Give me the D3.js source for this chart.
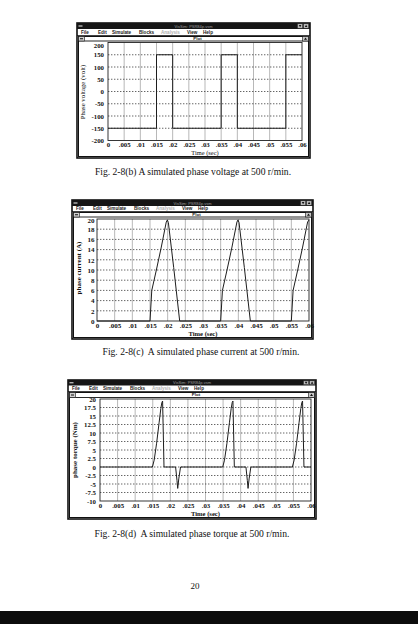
<!DOCTYPE html>
<html><head><meta charset="utf-8">
<script src="https://cdn.jsdelivr.net/npm/d3@7"></script>
<style>body{margin:0;background:#fff}svg{display:block}</style>
</head><body>
<svg id="c" width="418" height="624"></svg>
<script>
// ---------- data ----------
const timeTicks = [0, 0.005, 0.01, 0.015, 0.02, 0.025, 0.03, 0.035, 0.04, 0.045, 0.05, 0.055, 0.06];
const timeTickLabels = ["0", ".005", ".01", ".015", ".02", ".025", ".03", ".035", ".04", ".045", ".05", ".055", ".06"];

const voltTime  = [0, 0.015, 0.015, 0.020, 0.020, 0.035, 0.035, 0.040, 0.040, 0.055, 0.055, 0.060];
const voltValue = [-150, -150, 150, 150, -150, -150, 150, 150, -150, -150, 150, 150];
const voltTicks = [200, 150, 100, 50, 0, -50, -100, -150, -200];
const voltTickLabels = ["200", "150", "100", "50", "0", "-50", "-100", "-150", "-200"];

const currTime  = [0, 0.015, 0.0155, 0.0168, 0.0182, 0.0196, 0.0199, 0.0202, 0.0217, 0.0234,
                   0.035, 0.0355, 0.0368, 0.0382, 0.0396, 0.0399, 0.0402, 0.0417, 0.0434,
                   0.055, 0.0555, 0.0568, 0.0582, 0.0596, 0.06];
const currValue = [0, 0, 6, 10, 14.5, 19.4, 19.8, 19.3, 10.5, 0,
                   0, 6, 10, 14.5, 19.4, 19.8, 19.3, 10.5, 0,
                   0, 6, 10, 14.5, 19.4, 19.8];
const currTicks = [20, 18, 16, 14, 12, 10, 8, 6, 4, 2, 0];
const currTickLabels = ["20", "18", "16", "14", "12", "10", "8", "6", "4", "2", "0"];

const torqTime  = [0, 0.0149, 0.0154, 0.0161, 0.0168, 0.0173, 0.0176, 0.0178, 0.0182,
                   0.0215, 0.0219, 0.0221, 0.0224, 0.0229,
                   0.0349, 0.0354, 0.0361, 0.0368, 0.0373, 0.0376, 0.0378, 0.0382,
                   0.0415, 0.0419, 0.0421, 0.0424, 0.0429,
                   0.0547, 0.0552, 0.0559, 0.0566, 0.0571, 0.0574, 0.0576, 0.058, 0.06];
const torqValue = [0, 0, 2, 7, 13, 17.2, 19, 19.4, 0,
                   0, -4, -6.3, -3.5, 0,
                   0, 2, 7, 13, 17.2, 19, 19.4, 0,
                   0, -4, -6.3, -3.5, 0,
                   0, 2, 7, 13, 17.2, 19, 19.4, 0, 0];
const torqTicks = [20, 17.5, 15, 12.5, 10, 7.5, 5, 2.5, 0, -2.5, -5, -7.5, -10];
const torqTickLabels = ["20", "17.5", "15", "12.5", "10", "7.5", "5", "2.5", "0", "-2.5", "-5", "-7.5", "-10"];

const menuItems = ["File", "Edit", "Simulate", "Blocks", "Analysis", "View", "Help"];
const captions = [
  "Fig. 2-8(b) A simulated phase voltage at 500 r/min.",
  "Fig. 2-8(c)  A simulated phase current at 500 r/min.",
  "Fig. 2-8(d)  A simulated phase torque at 500 r/min."
];
const pageNumber = "20";

// ---------- drawing ----------
const SERIF = "'Liberation Serif','Times New Roman',serif";
const SANS = "'Liberation Sans',Arial,sans-serif";
const svg = d3.select("#c");

const menuOffsets = [4, 21, 35, 62, 84, 110, 126];

function drawWindow(g, L) {
  const w = L.x1 - L.x0;
  g.append("rect").attr("x", L.x0).attr("y", L.y0).attr("width", w).attr("height", L.y1 - L.y0)
    .attr("fill", "#fff").attr("stroke", "#111").attr("stroke-width", 1.6);
  g.append("rect").attr("x", L.x0).attr("y", L.y0).attr("width", w).attr("height", L.tb - L.y0).attr("fill", "#151515");
  g.append("rect").attr("x", L.x0 + 1.5).attr("y", (L.y0 + L.tb) / 2 - 0.6).attr("width", 4).attr("height", 1.2).attr("fill", "#ccc");
  g.append("text").attr("x", (L.x0 + L.x1) / 2).attr("y", L.tb - 1.4).attr("text-anchor", "middle")
    .attr("font-family", SANS).attr("font-size", 4).attr("fill", "#9a9a9a").text("VisSim: PSR84p.vsm");
  for (let i = 0; i < 2; i++) {
    const bx = L.x1 - 12.5 + i * 6;
    g.append("rect").attr("x", bx).attr("y", L.y0 + 0.8).attr("width", 5.2).attr("height", L.tb - L.y0 - 1.6)
      .attr("fill", "#bdbdbd").attr("stroke", "#222").attr("stroke-width", 0.5);
    const cy = (L.y0 + L.tb) / 2;
    const p = i === 0 ? `M${bx + 1.3},${cy - 1} L${bx + 3.9},${cy - 1} L${bx + 2.6},${cy + 1.2}Z`
                      : `M${bx + 1.3},${cy + 1} L${bx + 3.9},${cy + 1} L${bx + 2.6},${cy - 1.2}Z`;
    g.append("path").attr("d", p).attr("fill", "#111");
  }
  g.append("line").attr("x1", L.x0).attr("x2", L.x1).attr("y1", L.mb).attr("y2", L.mb).attr("stroke", "#111").attr("stroke-width", 0.8);
  menuItems.forEach((m, i) => {
    g.append("text").attr("x", L.x0 + menuOffsets[i]).attr("y", L.mb - 1.3)
      .attr("font-family", SANS).attr("font-weight", "bold").attr("font-size", 4.6)
      .attr("fill", m === "Analysis" ? "#b0b0b0" : "#1a1a1a").text(m);
  });
  const sx0 = L.x0 + 1.5, sx1 = L.x1 - 1.5;
  g.append("rect").attr("x", sx0).attr("y", L.pt).attr("width", sx1 - sx0).attr("height", L.y1 - 1.5 - L.pt)
    .attr("fill", "none").attr("stroke", "#111").attr("stroke-width", 1);
  g.append("line").attr("x1", sx0).attr("x2", sx1).attr("y1", L.ptb).attr("y2", L.ptb).attr("stroke", "#111").attr("stroke-width", 0.9);
  g.append("rect").attr("x", sx0).attr("y", L.pt).attr("width", 6).attr("height", L.ptb - L.pt)
    .attr("fill", "#d0d0d0").attr("stroke", "#111").attr("stroke-width", 0.6);
  g.append("rect").attr("x", sx0 + 1.5).attr("y", (L.pt + L.ptb) / 2 - 0.5).attr("width", 3).attr("height", 1).attr("fill", "#111");
  g.append("rect").attr("x", sx1 - 6).attr("y", L.pt).attr("width", 6).attr("height", L.ptb - L.pt)
    .attr("fill", "#c8c8c8").attr("stroke", "#111").attr("stroke-width", 0.6);
  const ay = (L.pt + L.ptb) / 2;
  g.append("path").attr("d", `M${sx1 - 4.5},${ay + 1} L${sx1 - 1.5},${ay + 1} L${sx1 - 3},${ay - 1.3}Z`).attr("fill", "#111");
  g.append("text").attr("x", (L.x0 + L.x1) / 2 + 4).attr("y", L.ptb - 1.1).attr("text-anchor", "middle")
    .attr("font-family", SANS).attr("font-weight", "bold").attr("font-size", 4.4).attr("fill", "#222").text("Plot");
}

function drawChart(L, tArr, vArr, yDomain, yTicks, yLabels, yTitle, yTitleBold, caption) {
  const g = svg.append("g");
  drawWindow(g, L);
  const x = d3.scaleLinear().domain([0, 0.06]).range([L.pl, L.pr]);
  const y = d3.scaleLinear().domain(yDomain).range([L.bot, L.top]);

  g.append("g").selectAll("line").data(timeTicks.slice(1, -1)).join("line")
    .attr("x1", d => x(d)).attr("x2", d => x(d)).attr("y1", L.top).attr("y2", L.bot)
    .attr("stroke", "#9a9a9a").attr("stroke-width", 0.7);
  g.append("g").selectAll("line").data(yTicks.filter(d => d !== yDomain[0] && d !== yDomain[1])).join("line")
    .attr("x1", L.pl).attr("x2", L.pr).attr("y1", d => y(d)).attr("y2", d => y(d))
    .attr("stroke", "#222").attr("stroke-width", 0.7).attr("stroke-dasharray", "1.4,1.6");

  g.append("rect").attr("x", L.pl).attr("y", L.top).attr("width", L.pr - L.pl).attr("height", L.bot - L.top)
    .attr("fill", "none").attr("stroke", "#222").attr("stroke-width", 0.9);

  const pts = tArr.map((t, i) => [t, vArr[i]]);
  g.append("path").datum(pts)
    .attr("d", d3.line().x(d => x(d[0])).y(d => y(d[1])))
    .attr("fill", "none").attr("stroke", "#1e1e1e").attr("stroke-width", 1).attr("stroke-linejoin", "round");

  const ya = g.append("g").attr("transform", `translate(${L.pl},0)`)
    .call(d3.axisLeft(y).tickValues(yTicks).tickFormat((d, i) => yLabels[i]).tickSize(0).tickPadding(L.yPad));
  ya.select(".domain").remove();
  ya.selectAll("text").attr("font-family", SERIF).attr("font-weight", "bold").attr("font-size", L.fs).attr("fill", "#111");
  ya.selectAll(".tick").filter(d => d === yDomain[1]).select("text").attr("dy", L.topDy);

  const xa = g.append("g").attr("transform", `translate(0,${L.bot})`)
    .call(d3.axisBottom(x).tickValues(timeTicks).tickFormat((d, i) => timeTickLabels[i]).tickSize(0).tickPadding(2));
  xa.select(".domain").remove();
  xa.selectAll("text").attr("font-family", SERIF).attr("font-weight", "bold").attr("font-size", L.fs).attr("fill", "#111");

  g.append("text").attr("x", (L.pl + L.pr) / 2).attr("y", L.bot + L.xtOff).attr("text-anchor", "middle")
    .attr("font-family", SERIF).attr("font-weight", yTitleBold ? "bold" : "normal").attr("font-size", L.tfs).attr("fill", "#111")
    .text("Time (sec)");
  g.append("text").attr("transform", `translate(${L.ytx},${L.yty}) rotate(-90)`).attr("text-anchor", "middle")
    .attr("font-family", SERIF).attr("font-weight", yTitleBold ? "bold" : "normal").attr("font-size", L.tfs + 0.4).attr("fill", "#111")
    .text(yTitle);

  svg.append("text").attr("x", L.capX).attr("y", L.capY).attr("text-anchor", "middle")
    .attr("font-family", SERIF).attr("font-size", 9.6).attr("fill", "#111").attr("xml:space", "preserve").text(caption);
}

const L1 = { x0: 77, x1: 310, y0: 23, tb: 29, mb: 35.5, pt: 36.5, ptb: 41, y1: 158,
  pl: 108, pr: 302, top: 42.5, bot: 140.5, yPad: 4, fs: 6.8, tfs: 6.4, xtOff: 14, ytx: 85, yty: 92,
  topDy: "0.7em", capX: 193, capY: 175 };
const L2 = { x0: 72, x1: 313, y0: 200, tb: 206, mb: 211.5, pt: 212.5, ptb: 217, y1: 339,
  pl: 97, pr: 309, top: 219, bot: 321, yPad: 2.5, fs: 7, tfs: 6.6, xtOff: 14.5, ytx: 81, yty: 268,
  topDy: "0.55em", capX: 201, capY: 355 };
const L3 = { x0: 68, x1: 316, y0: 380, tb: 385.5, mb: 391.5, pt: 392.5, ptb: 397.5, y1: 519,
  pl: 100, pr: 311, top: 399, bot: 501, yPad: 4, fs: 6.8, tfs: 6.6, xtOff: 15, ytx: 77, yty: 450,
  topDy: "0.35em", capX: 192, capY: 537 };

drawChart(L1, voltTime, voltValue, [-200, 200], voltTicks, voltTickLabels, "Phase voltage (volt)", false, captions[0]);
drawChart(L2, currTime, currValue, [0, 20], currTicks, currTickLabels, "phase current (A)", true, captions[1]);
drawChart(L3, torqTime, torqValue, [-10, 20], torqTicks, torqTickLabels, "phase torque (Nm)", true, captions[2]);

svg.append("text").attr("x", 195).attr("y", 589).attr("text-anchor", "middle")
  .attr("font-family", SERIF).attr("font-size", 9).attr("fill", "#111").text(pageNumber);
svg.append("rect").attr("x", 0).attr("y", 611).attr("width", 418).attr("height", 13).attr("fill", "#0c0c0c");
</script>
</body></html>
